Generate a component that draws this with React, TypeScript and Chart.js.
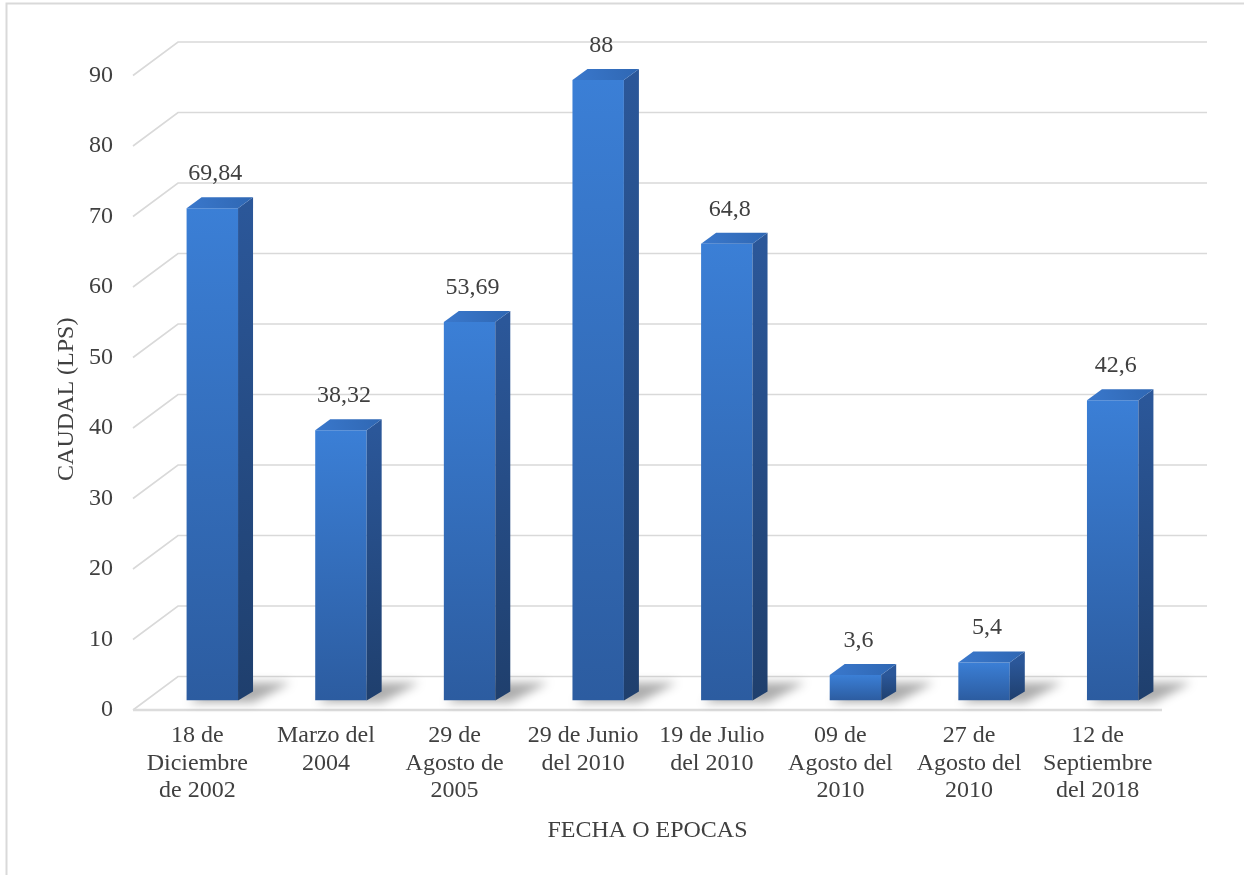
import { useEffect, useRef } from "react";
import { Chart, registerables } from "chart.js";

Chart.register(...registerables);

// Fechas (categorías) y caudal medido en cada una
const categories: string[][] = [
  ["18 de", "Diciembre", "de 2002"],
  ["Marzo del", "2004"],
  ["29 de", "Agosto de", "2005"],
  ["29 de Junio", "del 2010"],
  ["19 de Julio", "del 2010"],
  ["09 de", "Agosto del", "2010"],
  ["27 de", "Agosto del", "2010"],
  ["12 de", "Septiembre", "del 2018"],
];
const caudal: number[] = [69.84, 38.32, 53.69, 88, 64.8, 3.6, 5.4, 42.6];

const yMin = 0;
const yMax = 90;
const yStep = 10;

const yTitle = "CAUDAL (LPS)";
const xTitle = "FECHA O EPOCAS";

const FONT_FAMILY = "'Liberation Serif', 'Times New Roman', serif";
const TEXT_COLOR = "#404040";
const GRID_COLOR = "#d9d9d9";

// Oblique 3-D projection: the bars stand on a plane one third deep into the floor
const FRONT_DX = -15;
const FRONT_DY = 9.5;
const BACK_DX = 30;
const BACK_DY = -24;
const BAR_DX = 15;
const BAR_DY = 11;

const fmt = (v: number) => String(v).replace(".", ",");

function barBoxes(chart: Chart) {
  const meta = chart.getDatasetMeta(0);
  return meta.data.map((el: any, i: number) => {
    const p = el.getProps(["x", "y", "base", "width"], true);
    return { x: p.x, y: p.y, base: p.base, w: p.width, v: caudal[i] };
  });
}

const depthPlugin = {
  id: "depth3d",
  beforeDraw(chart: Chart) {
    const ctx = chart.ctx;
    ctx.save();
    ctx.strokeStyle = GRID_COLOR;
    ctx.lineWidth = 2;
    ctx.strokeRect(6.5, 3.5, 1400, 1000);
    ctx.restore();
  },
  beforeDatasetsDraw(chart: Chart) {
    const ctx = chart.ctx;
    const area = chart.chartArea;
    const ys: any = chart.scales.y;
    const frontL = area.left + FRONT_DX;
    const frontR = area.right + FRONT_DX;
    const backL = area.left + BACK_DX;
    const backR = area.right + BACK_DX;

    ctx.save();
    ctx.strokeStyle = GRID_COLOR;
    ctx.lineWidth = 1.6;
    ys.ticks.forEach((t: any) => {
      const p = ys.getPixelForValue(t.value);
      ctx.beginPath();
      ctx.moveTo(frontL, p + FRONT_DY);
      ctx.lineTo(backL, p + BACK_DY);
      ctx.lineTo(backR, p + BACK_DY);
      ctx.stroke();
      if (t.value === yMin) {
        ctx.save();
        ctx.lineWidth = 2.5;
        ctx.strokeStyle = "#dcdcdc";
        ctx.beginPath();
        ctx.moveTo(frontL, p + FRONT_DY);
        ctx.lineTo(frontR, p + FRONT_DY);
        ctx.stroke();
        ctx.restore();
      }
    });
    ctx.restore();

    // soft shadows cast on the floor
    ctx.save();
    ctx.filter = "blur(5px)";
    ctx.fillStyle = "rgba(0,0,0,0.32)";
    barBoxes(chart).forEach((b) => {
      const l = b.x - b.w / 2;
      const r = b.x + b.w / 2;
      const h = Math.min(22, b.base - b.y + 6);
      ctx.beginPath();
      ctx.moveTo(l + 2, b.base + 2);
      ctx.lineTo(r + BAR_DX, b.base + 2);
      ctx.lineTo(r + BAR_DX + 38, b.base - h + 4);
      ctx.lineTo(l + 30, b.base - h + 4);
      ctx.closePath();
      ctx.fill();
    });
    ctx.restore();
  },
  afterDatasetsDraw(chart: Chart) {
    const ctx = chart.ctx;
    barBoxes(chart).forEach((b) => {
      const l = b.x - b.w / 2;
      const r = b.x + b.w / 2;

      // side face
      const gs = ctx.createLinearGradient(0, b.y, 0, b.base);
      gs.addColorStop(0, "#2b5799");
      gs.addColorStop(1, "#1f3f6d");
      ctx.fillStyle = gs;
      ctx.beginPath();
      ctx.moveTo(r, b.y);
      ctx.lineTo(r + BAR_DX, b.y - BAR_DY);
      ctx.lineTo(r + BAR_DX, b.base - BAR_DY + 2);
      ctx.lineTo(r, b.base);
      ctx.closePath();
      ctx.fill();

      // top face
      const gt = ctx.createLinearGradient(l, b.y, r + BAR_DX, b.y - BAR_DY);
      gt.addColorStop(0, "#3a78cc");
      gt.addColorStop(1, "#2f67b3");
      ctx.fillStyle = gt;
      ctx.beginPath();
      ctx.moveTo(l, b.y);
      ctx.lineTo(l + BAR_DX, b.y - BAR_DY);
      ctx.lineTo(r + BAR_DX, b.y - BAR_DY);
      ctx.lineTo(r, b.y);
      ctx.closePath();
      ctx.fill();

      // value label
      ctx.save();
      ctx.font = `24px ${FONT_FAMILY}`;
      ctx.fillStyle = TEXT_COLOR;
      ctx.textAlign = "center";
      ctx.textBaseline = "alphabetic";
      ctx.fillText(fmt(b.v), b.x + 3, b.y - 28);
      ctx.restore();
    });
  },
  afterDraw(chart: Chart) {
    const ctx = chart.ctx;
    const area = chart.chartArea;
    const ys: any = chart.scales.y;
    ctx.save();
    ctx.font = `24px ${FONT_FAMILY}`;
    ctx.fillStyle = TEXT_COLOR;
    ctx.textAlign = "center";
    ctx.textBaseline = "alphabetic";

    const frontMid = (area.left + area.right) / 2 + FRONT_DX;
    ctx.fillText(xTitle, frontMid, 837);

    const yMid = (ys.getPixelForValue(yMin) + ys.getPixelForValue(yMax)) / 2 + 16;
    ctx.translate(73, yMid);
    ctx.rotate(-Math.PI / 2);
    ctx.fillText(yTitle, 0, 0);
    ctx.restore();
  },
};

export default function App() {
  const canvasRef = useRef<HTMLCanvasElement | null>(null);

  useEffect(() => {
    const canvas = canvasRef.current;
    if (!canvas) return;
    const font = { family: FONT_FAMILY, size: 24, lineHeight: 1.15 };

    const chart = new Chart(canvas, {
      type: "bar",
      data: {
        labels: categories,
        datasets: [
          {
            data: caudal,
            barPercentage: 0.4,
            categoryPercentage: 1,
            borderWidth: 0,
            backgroundColor: (c: any) => {
              const ch = c.chart;
              const ys = ch.scales?.y;
              if (!ch.chartArea || !ys || c.type !== "data") return "#3573c6";
              const top = ys.getPixelForValue(c.parsed.y);
              const base = ys.getPixelForValue(0);
              if (!isFinite(top) || !isFinite(base) || top === base) return "#3573c6";
              const g = ch.ctx.createLinearGradient(0, top, 0, base);
              g.addColorStop(0, "#3b7fd6");
              g.addColorStop(1, "#2c5ca0");
              return g;
            },
          },
        ],
      },
      options: {
        responsive: false,
        animation: false,
        devicePixelRatio: 1,
        layout: { padding: { left: 0, top: 66, right: 67, bottom: 0 } },
        plugins: {
          legend: { display: false },
          tooltip: { enabled: false },
        },
        scales: {
          x: {
            grid: { display: false, drawTicks: false },
            border: { display: false },
            ticks: {
              font,
              color: TEXT_COLOR,
              padding: 21.5,
              labelOffset: FRONT_DX,
              maxRotation: 0,
              minRotation: 0,
              autoSkip: false,
            },
            afterFit: (s: any) => {
              s.height = 174.5;
            },
          },
          y: {
            min: yMin,
            max: yMax,
            grid: { display: false, drawTicks: false },
            border: { display: false },
            ticks: {
              stepSize: yStep,
              font: { family: FONT_FAMILY, size: 24 },
              color: TEXT_COLOR,
              padding: 35,
              labelOffset: FRONT_DY,
            },
            afterFit: (s: any) => {
              s.width = 148;
            },
          },
        },
      },
      plugins: [depthPlugin],
    } as any);

    return () => chart.destroy();
  }, []);

  return (
    <div style={{ position: "absolute", left: 0, top: 0, width: 1244, height: 875, background: "#fff" }}>
      <canvas ref={canvasRef} width={1244} height={875} style={{ display: "block" }} />
    </div>
  );
}
